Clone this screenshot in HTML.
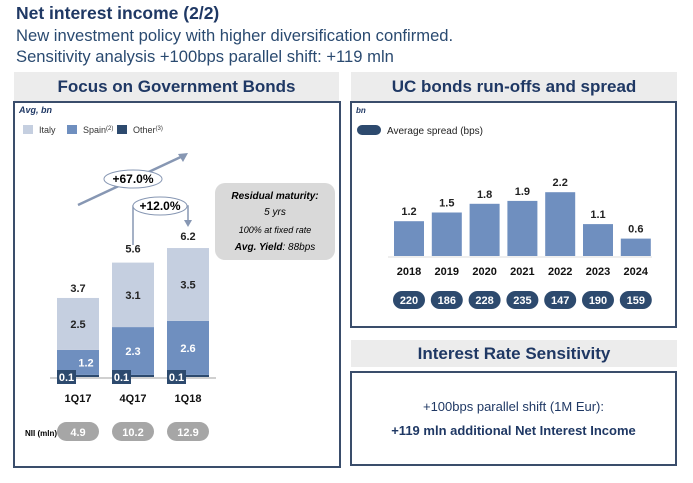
<!DOCTYPE html>
<html><head><meta charset="utf-8"><style>
body{margin:0;width:693px;height:483px;background:#fff;font-family:"Liberation Sans",Arial,sans-serif;position:relative;overflow:hidden}
.a{position:absolute}
.hdr{background:#ececec;color:#1f3864;font-weight:bold;font-size:17px;text-align:center;line-height:29px}
.box{border:2px solid #3a4d6b;box-sizing:border-box}
</style></head><body>
<div class="a" style="left:16px;top:3px;font-size:17.5px;font-weight:bold;color:#1f3864">Net interest income (2/2)</div>
<div class="a" style="left:16px;top:26px;font-size:16.6px;color:#2a4a70">New investment policy with higher diversification confirmed.</div>
<div class="a" style="left:16px;top:47px;font-size:16.6px;color:#2a4a70">Sensitivity analysis +100bps parallel shift: +119 mln</div>

<div class="a hdr" style="left:14px;top:72px;width:325px;height:29px">Focus on Government Bonds</div>
<div class="a box" style="left:13px;top:101px;width:328px;height:367px"></div>

<div class="a hdr" style="left:351px;top:72px;width:326px;height:29px">UC bonds run-offs and spread</div>
<div class="a box" style="left:350px;top:101px;width:327px;height:227px"></div>

<div class="a hdr" style="left:351px;top:340px;width:326px;height:27px;line-height:27px">Interest Rate Sensitivity</div>
<div class="a box" style="left:350px;top:371px;width:327px;height:95px"></div>
<div class="a" style="left:350px;top:399px;width:327px;text-align:center;font-size:13px;color:#1f3864">+100bps parallel shift (1M Eur):</div>
<div class="a" style="left:350px;top:423px;width:327px;text-align:center;font-size:13px;font-weight:bold;color:#1f3864">+119 mln additional Net Interest Income</div>

<svg class="a" style="left:0;top:0" width="693" height="483" id="svg">
<text x="19" y="113" font-size="9" font-style="italic" font-weight="bold" fill="#1f3864">Avg, bn</text>
<rect x="23" y="125" width="10" height="9" fill="#c5cfe0"/>
<text x="39" y="133" font-size="9" fill="#333">Italy</text>
<rect x="67" y="125" width="10" height="9" fill="#6f8fbf"/>
<text x="83" y="133" font-size="9" fill="#333">Spain<tspan font-size="6" dy="-3">(2)</tspan></text>
<rect x="117" y="125" width="10" height="9" fill="#2d4a6e"/>
<text x="133" y="133" font-size="9" fill="#333">Other<tspan font-size="6" dy="-3">(3)</tspan></text>
<line x1="78" y1="205" x2="185" y2="155" stroke="#8797b3" stroke-width="2.5"/>
<polygon points="188,153 178,154 183,162" fill="#8797b3"/>
<ellipse cx="133" cy="179" rx="29" ry="9" fill="#fff" stroke="#8797b3"/>
<text x="133" y="183" font-size="12" font-weight="bold" text-anchor="middle">+67.0%</text>
<polyline points="133,245 133,206 188,206 188,221" fill="none" stroke="#8797b3" stroke-width="1.5"/>
<polygon points="184,220 192,220 188,227" fill="#8797b3"/>
<ellipse cx="160" cy="206" rx="27" ry="9" fill="#fff" stroke="#8797b3"/>
<text x="160" y="210" font-size="12" font-weight="bold" text-anchor="middle">+12.0%</text>
<rect x="215" y="183" width="120" height="77" rx="10" fill="#d9d9d9"/>
<text x="275" y="199" font-size="10" font-style="italic" font-weight="bold" text-anchor="middle">Residual maturity:</text>
<text x="275" y="215" font-size="10" font-style="italic" text-anchor="middle">5 yrs</text>
<text x="275" y="233" font-size="9" font-style="italic" text-anchor="middle">100% at fixed rate</text>
<text x="275" y="250" font-size="10" font-style="italic" text-anchor="middle"><tspan font-weight="bold">Avg. Yield</tspan>: 88bps</text>
<text x="25" y="436" font-size="8" font-weight="bold">NII (mln)</text>
<text x="356" y="113" font-size="8" font-style="italic" font-weight="bold" fill="#1f3864">bn</text>
<rect x="357" y="125" width="24" height="10" rx="5" fill="#2d4a6e"/>
<text x="387" y="134" font-size="10" fill="#222">Average spread (bps)</text>
<g id="left"></g><g id="right"></g>
</svg>
<script>
const quarters=["1Q17","4Q17","1Q18"];
const other=[0.1,0.1,0.1];
const spain=[1.2,2.3,2.6];
const italy=[2.5,3.1,3.5];
const totals=[3.7,5.6,6.2];
const nii=["4.9","10.2","12.9"];
const years=["2018","2019","2020","2021","2022","2023","2024"];
const runoffs=[1.2,1.5,1.8,1.9,2.2,1.1,0.6];
const spreads=[220,186,228,235,147,190,159];
const NS="http://www.w3.org/2000/svg";
function mk(p,t,a,txt){const e=document.createElementNS(NS,t);for(const k in a)e.setAttribute(k,a[k]);if(txt!==undefined)e.textContent=txt;p.appendChild(e);return e;}
const L=document.getElementById('left'),R=document.getElementById('right');
// left chart
const lBase=377,lScale=20.8,lx=i=>78+i*55,bw=42;
const ly=v=>lBase-v*lScale;
mk(L,'line',{x1:50,y1:lBase+1,x2:216,y2:lBase+1,stroke:'#d0d0d0','stroke-width':2});
quarters.forEach((q,i)=>{
 const cx=lx(i);let cum=0;
 const segs=[[other[i],'#2d4a6e','other'],[spain[i],'#6f8fbf','spain'],[italy[i],'#c5cfe0','italy']];
 segs.forEach(s=>{const r=mk(L,'rect',{x:cx-bw/2,y:ly(cum+s[0]),width:bw,height:s[0]*lScale,fill:s[1]});
  
  cum+=s[0];});
 const ot=mk(L,'rect',{x:cx-bw/2,y:lBase-7,width:19,height:14,fill:'#2d4a6e'});
 const t0=mk(L,'text',{x:cx-bw/2+9.5,y:lBase+4,'font-size':11,'font-weight':'bold',fill:'#fff','text-anchor':'middle'},other[i].toFixed(1));
 
 
 const sx=i==0?cx+8:cx;
 const ts=mk(L,'text',{x:sx,y:ly(other[i]+spain[i]/2)+4,'font-size':11,'font-weight':'bold',fill:'#fff','text-anchor':'middle'},spain[i].toFixed(1));
 
 
 const ti=mk(L,'text',{x:cx,y:ly(other[i]+spain[i]+italy[i]/2)+4,'font-size':11,'font-weight':'bold',fill:'#222','text-anchor':'middle'},italy[i].toFixed(1));
 
 
 const tt=mk(L,'text',{x:cx,y:ly(totals[i])-8,'font-size':11,'font-weight':'bold',fill:'#222','text-anchor':'middle'},totals[i].toFixed(1));
 
 
 const tc=mk(L,'text',{x:cx,y:402,'font-size':11,'font-weight':'bold',fill:'#111','text-anchor':'middle'},q);
 
 
 const pr=mk(L,'rect',{x:cx-21,y:422,width:42,height:19,rx:9.5,fill:'#a6a6a6'});
 
 
 const pt=mk(L,'text',{x:cx,y:436,'font-size':11,'font-weight':'bold',fill:'#fff','text-anchor':'middle'},nii[i]);
 
 
});
// right chart
const rBase=256,rScale=29,rx=i=>409+i*37.8,rbw=30;
const ry=v=>rBase-v*rScale;
mk(R,'line',{x1:388,y1:rBase+1,x2:652,y2:rBase+1,stroke:'#dcdcdc','stroke-width':1});
years.forEach((y,i)=>{
 const cx=rx(i);
 const b=mk(R,'rect',{x:cx-rbw/2,y:ry(runoffs[i]),width:rbw,height:runoffs[i]*rScale,fill:'#6f8fbf'});
 
 
 const v=mk(R,'text',{x:cx,y:ry(runoffs[i])-6,'font-size':11,'font-weight':'bold',fill:'#222','text-anchor':'middle'},runoffs[i].toFixed(1));
 
 
 const t=mk(R,'text',{x:cx,y:275,'font-size':11,'font-weight':'bold',fill:'#111','text-anchor':'middle'},y);
 
 
 const p=mk(R,'rect',{x:cx-16,y:291,width:32,height:18,rx:9,fill:'#2d4a6e'});
 
 
 const pt=mk(R,'text',{x:cx,y:304,'font-size':11,'font-weight':'bold',fill:'#fff','text-anchor':'middle'},String(spreads[i]));
 
 
});
</script>
</body></html>
